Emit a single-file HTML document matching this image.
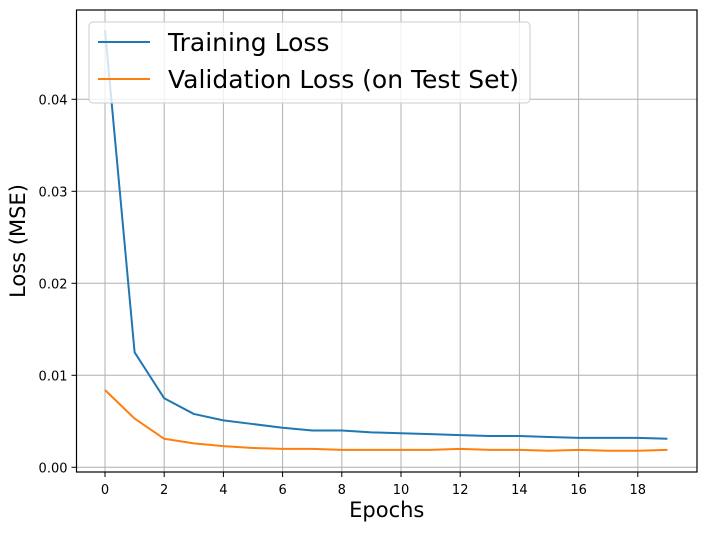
<!DOCTYPE html>
<html><head><meta charset="utf-8"><style>
body{margin:0;background:#fff;width:706px;height:531px;overflow:hidden}
svg{font-family:"DejaVu Sans","Liberation Sans",sans-serif}
</style></head><body>
<svg id="chart" width="706" height="531"></svg>
<script>
const epochs=[0,1,2,3,4,5,6,7,8,9,10,11,12,13,14,15,16,17,18,19];
const trainLoss=[0.0475,0.0125,0.0075,0.0058,0.0051,0.0047,0.0043,0.0040,0.0040,0.0038,0.0037,0.0036,0.0035,0.0034,0.0034,0.0033,0.0032,0.0032,0.0032,0.0031];
const valLoss=[0.0084,0.0053,0.0031,0.0026,0.0023,0.0021,0.0020,0.0020,0.0019,0.0019,0.0019,0.0019,0.0020,0.0019,0.0019,0.0018,0.0019,0.0018,0.0018,0.0019];
const xTicks=[0,2,4,6,8,10,12,14,16,18];
const yTicks=[0,0.01,0.02,0.03,0.04];
const yTickLabels=["0.00","0.01","0.02","0.03","0.04"];
const L=76.5,R=697,T=10,B=472;
const x=v=>105+v*29.6;
const y=v=>467.3-v*9200;
const NS="http://www.w3.org/2000/svg";
const svg=document.getElementById('chart');
function mk(t,a,p){const e=document.createElementNS(NS,t);for(const k in a)e.setAttribute(k,a[k]);(p||svg).appendChild(e);return e;}
xTicks.forEach((v,i)=>{
 const g=mk('line',{x1:x(v),x2:x(v),y1:T,y2:B,stroke:'#b0b0b0','stroke-width':1});
 
 
 mk('line',{x1:x(v),x2:x(v),y1:B,y2:B+5,stroke:'#000','stroke-width':1});
 const t=mk('text',{x:x(v),y:B+22,'text-anchor':'middle','font-size':13});
 t.textContent=v;
 
 
});
yTicks.forEach((v,i)=>{
 const g=mk('line',{x1:L,x2:R,y1:y(v),y2:y(v),stroke:'#b0b0b0','stroke-width':1});
 
 
 mk('line',{x1:L-5,x2:L,y1:y(v),y2:y(v),stroke:'#000','stroke-width':1});
 const t=mk('text',{x:L-9,y:y(v)+5,'text-anchor':'end','font-size':13});
 t.textContent=yTickLabels[i];
 
 
});
function series(vals,color,name){
 const p=mk('polyline',{points:epochs.map((e,i)=>x(e)+','+y(vals[i])).join(' '),fill:'none',stroke:color,'stroke-width':2,'stroke-linejoin':'round'});
 
 
}
series(trainLoss,'#1f77b4','training-loss-line');
series(valLoss,'#ff7f0e','validation-loss-line');
const fr=mk('rect',{x:L,y:T,width:R-L,height:B-T,fill:'none',stroke:'#000','stroke-width':1.2});


const lg=mk('g',{});


mk('rect',{x:89,y:22,width:441,height:81,rx:4,fill:'#fff','fill-opacity':0.8,stroke:'#ccc'},lg);
mk('line',{x1:98,x2:150,y1:42,y2:42,stroke:'#1f77b4','stroke-width':2},lg);
mk('line',{x1:98,x2:150,y1:79,y2:79,stroke:'#ff7f0e','stroke-width':2},lg);
const t1=mk('text',{x:168,y:51,'font-size':25},lg);t1.textContent='Training Loss';


const t2=mk('text',{x:168,y:88,'font-size':25},lg);t2.textContent='Validation Loss (on Test Set)';


const xt=mk('text',{x:(L+R)/2,y:517,'text-anchor':'middle','font-size':21});xt.textContent='Epochs';


const yt=mk('text',{x:0,y:0,'text-anchor':'middle','font-size':21,transform:'translate(25,241) rotate(-90)'});yt.textContent='Loss (MSE)';


</script>
</body></html>
